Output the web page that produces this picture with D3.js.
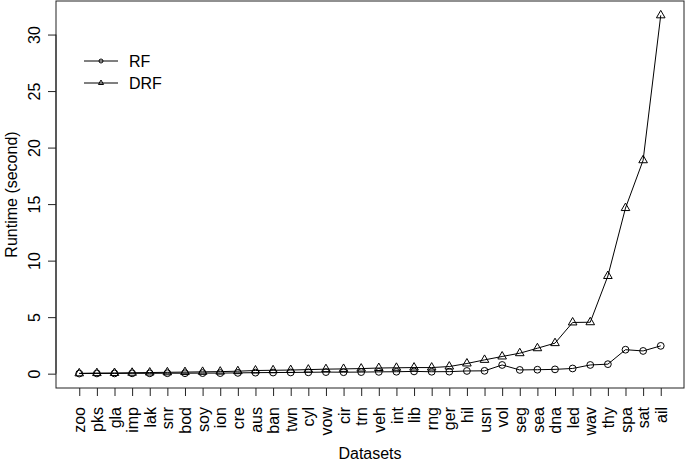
<!DOCTYPE html>
<html>
<head>
<meta charset="utf-8">
<script src="https://cdn.jsdelivr.net/npm/d3@7"></script>
<style>
  html, body { margin: 0; padding: 0; background: #fff; }
  svg { display: block; }
  text { font-family: "Liberation Sans", Arial, Helvetica, sans-serif; fill: #000; }
</style>
</head>
<body>
<svg id="chart" width="685" height="464"></svg>
<script>
const categories = ["zoo","pks","gla","imp","lak","snr","bod","soy","ion","cre","aus","ban","twn","cyl","vow","cir","trn","veh","int","lib","rng","ger","hil","usn","vol","seg","sea","dna","led","wav","thy","spa","sat","ail"];
const rfValues = [0.01,0.02,0.02,0.03,0.03,0.04,0.04,0.05,0.05,0.07,0.09,0.10,0.11,0.12,0.14,0.13,0.14,0.16,0.17,0.20,0.17,0.18,0.24,0.25,0.77,0.33,0.35,0.38,0.46,0.77,0.84,2.12,2.01,2.46];
const drfValues = [0.03,0.05,0.06,0.08,0.10,0.12,0.14,0.16,0.18,0.22,0.28,0.30,0.32,0.36,0.40,0.42,0.45,0.50,0.52,0.54,0.54,0.63,0.90,1.22,1.52,1.81,2.25,2.70,4.53,4.55,8.64,14.65,18.88,31.70];
const yTicks = [0,5,10,15,20,25,30];
const seriesNames = ["RF","DRF"];

const svg = d3.select("#chart");
const pL = 56, pR = 684, pT = 1, pB = 388;
const fs = 16;

const n = categories.length;
const xPad = (n - 1) * 0.04;
const x = d3.scaleLinear().domain([1 - xPad, n + xPad]).range([pL, pR]);
const yMax = d3.max(drfValues.concat(rfValues));
const yPad = yMax * 0.04;
const y = d3.scaleLinear().domain([0 - yPad, yMax + yPad]).range([pB, pT]);

// Box
svg.append("rect").attr("x", pL).attr("y", pT).attr("width", pR - pL).attr("height", pB - pT)
  .attr("fill", "none").attr("stroke", "#222").attr("stroke-width", 1);

// Y axis
const yAxis = svg.append("g").attr("transform", `translate(${pL},0)`)
  .call(d3.axisLeft(y).tickValues(yTicks).tickSize(8).tickFormat(d3.format("d")));
yAxis.select(".domain").remove();
yAxis.selectAll(".tick line").attr("stroke", "#222");
yAxis.selectAll(".tick text")
  .attr("x", null).attr("dy", null)
  .attr("transform", "translate(-16,0) rotate(-90)")
  .attr("text-anchor", "middle")
  .style("font-size", fs + "px").style("font-family", "'Liberation Sans', Arial, sans-serif").attr("fill", "#000");
svg.append("line").attr("x1", pL).attr("x2", pL).attr("y1", y(yTicks[0])).attr("y2", y(yTicks[yTicks.length-1])).attr("stroke", "#222");

// X axis
const xAxis = svg.append("g").attr("transform", `translate(0,${pB})`)
  .call(d3.axisBottom(x).tickValues(d3.range(1, n + 1)).tickSize(8).tickFormat(i => categories[i - 1]));
xAxis.select(".domain").remove();
xAxis.selectAll(".tick line").attr("stroke", "#222");
xAxis.selectAll(".tick text")
  .attr("y", null).attr("dy", null)
  .attr("transform", "translate(0,19) rotate(-90)")
  .attr("text-anchor", "end")
  .attr("dy", "0.35em")
  .style("font-size", fs + "px").style("font-family", "'Liberation Sans', Arial, sans-serif").attr("fill", "#000");

// Axis titles
svg.append("text").attr("x", (pL + pR) / 2).attr("y", 459).attr("text-anchor", "middle")
  .style("font-size", fs + "px").text("Datasets");
svg.append("text").attr("transform", `translate(17,${(pT + pB) / 2}) rotate(-90)`).attr("text-anchor", "middle")
  .style("font-size", fs + "px").text("Runtime (second)");

// Markers
function trianglePath(cx, cy, R) {
  const r = 1.555 * R, xc = r * Math.sqrt(3) / 2, yc = r / 2;
  return `M${cx},${cy - r}L${cx + xc},${cy + yc}L${cx - xc},${cy + yc}Z`;
}

const line = d3.line().x((d, i) => x(i + 1)).y(d => y(d));
const g = svg.append("g");

g.append("path").datum(rfValues).attr("d", line).attr("fill", "none").attr("stroke", "#000").attr("stroke-width", 1);
g.selectAll("circle.rf").data(rfValues).join("circle").attr("class", "rf")
  .attr("cx", (d, i) => x(i + 1)).attr("cy", d => y(d)).attr("r", 3.4)
  .attr("fill", "none").attr("stroke", "#000").attr("stroke-width", 1);

g.append("path").datum(drfValues).attr("d", line).attr("fill", "none").attr("stroke", "#000").attr("stroke-width", 1);
g.selectAll("path.drf").data(drfValues).join("path").attr("class", "drf")
  .attr("d", (d, i) => trianglePath(x(i + 1), y(d), 3.2))
  .attr("fill", "none").attr("stroke", "#000").attr("stroke-width", 1);

// Legend
const legend = svg.append("g");
const legY = [61, 83];
seriesNames.forEach((name, k) => {
  legend.append("line").attr("x1", 84).attr("x2", 118).attr("y1", legY[k]).attr("y2", legY[k]).attr("stroke", "#000");
  if (k === 0) {
    legend.append("circle").attr("cx", 101).attr("cy", legY[k]).attr("r", 2).attr("fill", "none").attr("stroke", "#000");
  } else {
    legend.append("path").attr("d", trianglePath(101, legY[k], 1.9)).attr("fill", "none").attr("stroke", "#000");
  }
  legend.append("text").attr("x", 129).attr("y", legY[k]).attr("dy", "0.35em")
    .style("font-size", fs + "px").text(name);
});
</script>
</body>
</html>
